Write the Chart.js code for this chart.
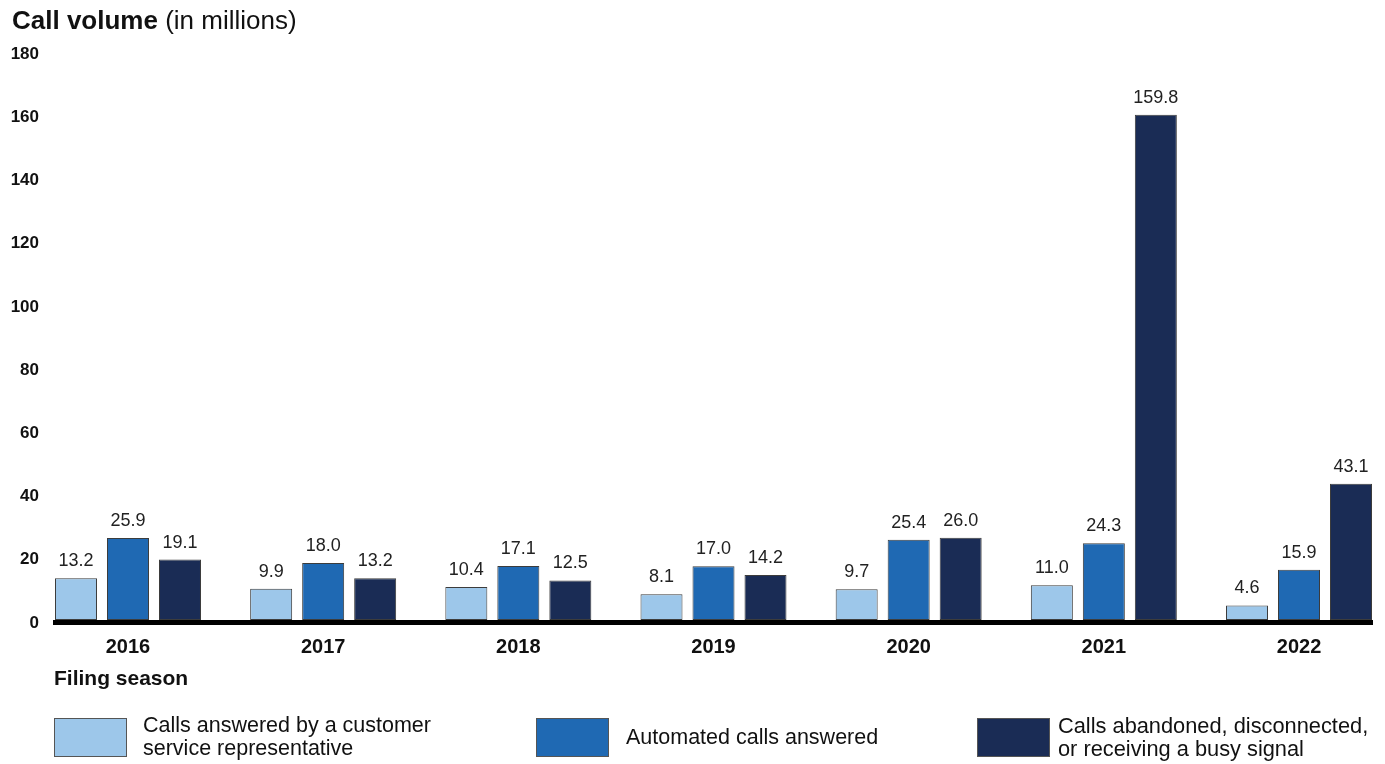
<!DOCTYPE html>
<html>
<head>
<meta charset="utf-8">
<title>Call volume</title>
<script src="https://cdn.jsdelivr.net/npm/chart.js@4/dist/chart.umd.min.js"></script>
<style>
  body { margin: 0; background: #fff; font-family: "Liberation Sans", Arial, sans-serif; color: #111; }
  #wrap { position: relative; width: 1385px; height: 764px; overflow: hidden; }
  #chartBox { position: absolute; left: 0; top: 0; width: 1385px; height: 764px; }
  #title { position: absolute; left: 12px; top: 7px; font-size: 26px; line-height: 26px; white-space: nowrap; }
  #title b { font-weight: bold; }
  #xTitle { position: absolute; left: 54px; top: 667px; font-size: 21px; line-height: 21px; font-weight: bold; }
  .legendItem { position: absolute; top: 714px; height: 46px; display: flex; align-items: center; }
  .legendItem .swatch { width: 71px; height: 37px; border: 1px solid #555; flex: none; }
  .legendItem .text { font-size: 21.5px; line-height: 23px; }
  .legendItem:nth-child(1) { left: 54px; }
  .legendItem:nth-child(1) .text { margin-left: 16px; width: 305px; }
  .legendItem:nth-child(2) { left: 536px; }
  .legendItem:nth-child(2) .text { margin-left: 17px; }
  .legendItem:nth-child(3) { left: 977px; }
  .legendItem:nth-child(3) .text { margin-left: 8px; width: 325px; font-size: 21.8px; }
</style>
</head>
<body>
<div id="wrap">
  <div id="chartBox"><canvas id="chart_calls"></canvas></div>
  <div id="title"><b>Call volume</b> (in millions)</div>
  <div id="xTitle">Filing season</div>
  <div id="legend"></div>
</div>
<script>
// filing seasons and call volumes (millions)
var years = ["2016", "2017", "2018", "2019", "2020", "2021", "2022"];
var repCalls = [13.2, 9.9, 10.4, 8.1, 9.7, 11.0, 4.6];
var automatedCalls = [25.9, 18.0, 17.1, 17.0, 25.4, 24.3, 15.9];
var abandonedCalls = [19.1, 13.2, 12.5, 14.2, 26.0, 159.8, 43.1];
var yTicks = [0, 20, 40, 60, 80, 100, 120, 140, 160, 180];

var seriesLabels = [
  "Calls answered by a customer service representative",
  "Automated calls answered",
  "Calls abandoned, disconnected, or receiving a busy signal"
];
var seriesColors = ["#9dc7ea", "#1f69b3", "#1a2c55"];
var seriesValues = [repCalls, automatedCalls, abandonedCalls];

var FONT = '"Liberation Sans", Arial, sans-serif';

// x is a linear axis (one unit per season) so the groups can sit a bit
// wider apart than a plain category axis would put them
function toPoints(values) {
  return values.map(function (v, i) { return { x: i, y: v }; });
}

// value written above every bar
var barValueLabels = {
  id: "barValueLabels",
  afterDatasetsDraw: function (chart) {
    var ctx = chart.ctx;
    ctx.save();
    ctx.font = "18px " + FONT;
    ctx.fillStyle = "#222";
    ctx.textAlign = "center";
    ctx.textBaseline = "alphabetic";
    chart.data.datasets.forEach(function (ds, i) {
      chart.getDatasetMeta(i).data.forEach(function (bar, j) {
        ctx.fillText(ds.data[j].y.toFixed(1), bar.x, bar.y - 12);
      });
    });
    ctx.restore();
  }
};

function buildLegend() {
  var box = document.getElementById("legend");
  seriesLabels.forEach(function (label, i) {
    var item = document.createElement("div");
    item.className = "legendItem";
    var sw = document.createElement("div");
    sw.className = "swatch";
    sw.style.background = seriesColors[i];
    var txt = document.createElement("div");
    txt.className = "text";
    txt.textContent = label;
    item.appendChild(sw);
    item.appendChild(txt);
    box.appendChild(item);
  });
}

function createCallChart() {
  new Chart(document.getElementById("chart_calls"), {
    type: "bar",
    data: {
      datasets: seriesValues.map(function (values, i) {
        return {
          label: seriesLabels[i],
          data: toPoints(values),
          backgroundColor: seriesColors[i],
          borderColor: "#3c3c3c",
          borderWidth: 1,
          borderSkipped: false,
          categoryPercentage: 0.7993,
          barPercentage: 0.8077
        };
      })
    },
    options: {
      responsive: true,
      maintainAspectRatio: false,
      animation: false,
      layout: { padding: { left: 0, right: 13, top: 51, bottom: 101.5 } },
      plugins: {
        legend: { display: false },
        tooltip: { enabled: false }
      },
      scales: {
        x: {
          type: "linear",
          offset: false,
          bounds: "data",
          min: -0.374,
          max: 6.374,
          grid: { display: false },
          border: { display: true, color: "#000", width: 5 },
          // one tick per season, at whole numbers only
          afterBuildTicks: function (scale) {
            scale.ticks = years.map(function (y, i) { return { value: i }; });
          },
          ticks: {
            padding: 5,
            color: "#111",
            font: { family: FONT, size: 20, weight: "bold" },
            callback: function (value) { return years[value]; }
          },
          afterFit: function (scale) { scale.height = 40; }
        },
        y: {
          bounds: "data",
          min: -0.8,
          max: yTicks[yTicks.length - 1],
          grid: { display: false },
          border: { display: false },
          afterBuildTicks: function (scale) {
            scale.ticks = yTicks.map(function (v) { return { value: v }; });
          },
          ticks: {
            padding: 8,
            labelOffset: 3,
            color: "#111",
            font: { family: FONT, size: 17, weight: "bold" }
          },
          afterFit: function (scale) { scale.width = 55; }
        }
      }
    },
    plugins: [barValueLabels]
  });
}

buildLegend();
createCallChart();
</script>
</body>
</html>
